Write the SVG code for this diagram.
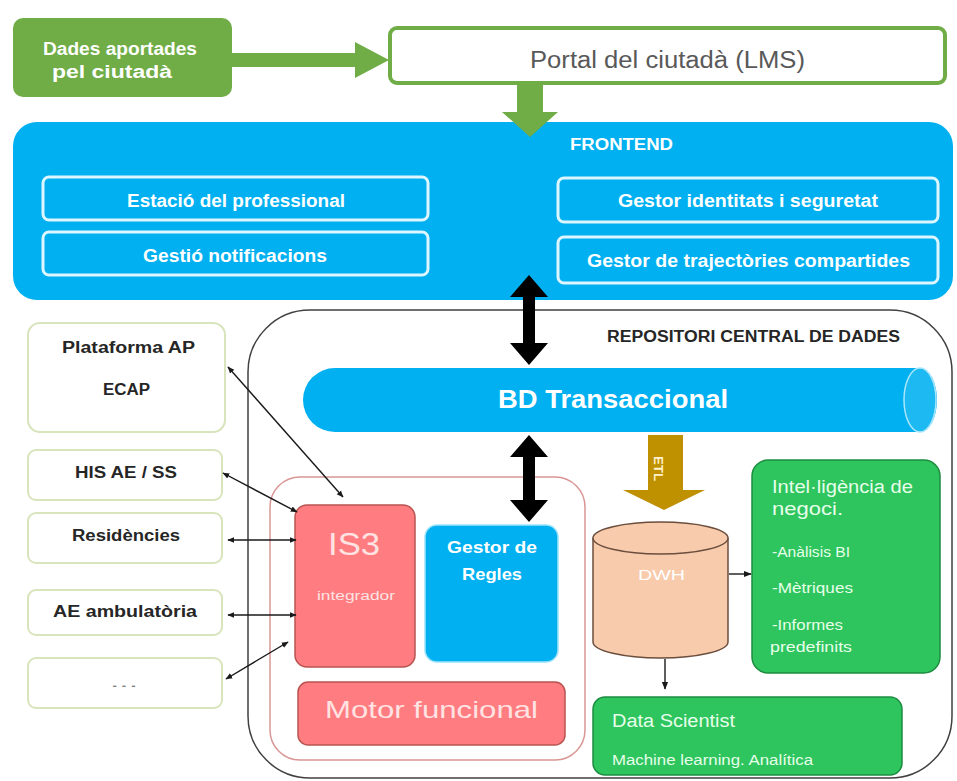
<svg xmlns="http://www.w3.org/2000/svg" width="957" height="781" viewBox="0 0 957 781">
<style>
text{font-family:"Liberation Sans",Arial,sans-serif}
.b{font-weight:bold}
.w{fill:#ffffff}
.fe{fill:none;stroke:#DDF6FF;stroke-width:3}
.lb{fill:#ffffff;stroke:#D8E4BC;stroke-width:2}
.dk{fill:#262626}
.ln{stroke:#1a1a1a;stroke-width:1.4;fill:none;marker-start:url(#ah);marker-end:url(#ah)}
.gr{fill:#2EC45E;stroke:#1E8C40;stroke-width:1.5}
.pk{fill:#FF7C80;stroke:#B85450;stroke-width:1.5}
.pt{fill:#FFE3E3}
.gt{fill:#E6FFE9}
</style>
<defs>
<marker id="ah" viewBox="0 0 10 10" refX="9" refY="5" markerWidth="7" markerHeight="7" orient="auto-start-reverse" markerUnits="userSpaceOnUse">
<path d="M0,1 L10,5 L0,9 Z" fill="#1a1a1a"/>
</marker>
<marker id="ah2" viewBox="0 0 10 10" refX="9" refY="5" markerWidth="8" markerHeight="8" orient="auto" markerUnits="userSpaceOnUse">
<path d="M0,1 L10,5 L0,9 Z" fill="#1a1a1a"/>
</marker>
</defs>

<g id="repositori">
<rect x="248" y="310" width="704" height="468" rx="62" fill="#ffffff" stroke="#404040" stroke-width="1.5"/>
<text x="607" y="342" class="b dk" font-size="16" textLength="293" lengthAdjust="spacingAndGlyphs">REPOSITORI CENTRAL DE DADES</text>
</g>

<g id="frontend">
<rect x="13" y="122" width="940" height="178" rx="24" fill="#00B0F0"/>
<text x="570" y="150" class="b w" font-size="16" textLength="103" lengthAdjust="spacingAndGlyphs">FRONTEND</text>
</g>
<g id="estacio">
<rect x="43" y="177" width="385" height="43" rx="6" class="fe"/>
<text x="127" y="207" class="b w" font-size="18" textLength="218" lengthAdjust="spacingAndGlyphs">Estació del professional</text>
</g>
<g id="notificacions">
<rect x="43" y="232" width="385" height="43" rx="6" class="fe"/>
<text x="143" y="262" class="b w" font-size="18" textLength="184" lengthAdjust="spacingAndGlyphs">Gestió notificacions</text>
</g>
<g id="identitats">
<rect x="558" y="178" width="380" height="44" rx="6" class="fe"/>
<text x="618" y="207" class="b w" font-size="18" textLength="260" lengthAdjust="spacingAndGlyphs">Gestor identitats i seguretat</text>
</g>
<g id="trajectories">
<rect x="558" y="237" width="380" height="46" rx="6" class="fe"/>
<text x="587" y="267" class="b w" font-size="18" textLength="323" lengthAdjust="spacingAndGlyphs">Gestor de trajectòries compartides</text>
</g>

<g id="dades">
<rect x="13" y="18" width="219" height="79" rx="10" fill="#70AD47"/>
<text x="43" y="55" class="b w" font-size="18" textLength="154" lengthAdjust="spacingAndGlyphs">Dades aportades</text>
<text x="52" y="78" class="b w" font-size="18" textLength="120" lengthAdjust="spacingAndGlyphs">pel ciutadà</text>
</g>
<g id="portal">
<rect x="390" y="28" width="555" height="55" rx="7" fill="#ffffff" stroke="#70AD47" stroke-width="4"/>
<text x="530" y="68" font-size="23" fill="#595959" textLength="275" lengthAdjust="spacingAndGlyphs">Portal del ciutadà (LMS)</text>
</g>

<g id="bd">
<path d="M335,368 H920 A17,32 0 0 1 920,432 H335 A32,32 0 0 1 335,368 Z" fill="#00B0F0"/>
<ellipse cx="920" cy="400" rx="16" ry="32" fill="#1DB9F2" stroke="#A8E6FB" stroke-width="1.5"/>
<text x="498" y="408" class="b w" font-size="26" textLength="230" lengthAdjust="spacingAndGlyphs">BD Transaccional</text>
</g>

<g id="integracio">
<rect x="270" y="477" width="315" height="283" rx="30" fill="#ffffff" stroke="#D99694" stroke-width="1.5"/>
</g>
<g id="is3">
<rect x="295" y="505" width="120" height="162" rx="12" class="pk"/>
<text x="328" y="555" class="pt" font-size="32" textLength="52" lengthAdjust="spacingAndGlyphs">IS3</text>
<text x="317" y="600" class="pt" font-size="12" textLength="78" lengthAdjust="spacingAndGlyphs">integrador</text>
</g>
<g id="regles">
<rect x="425" y="525" width="133" height="137" rx="12" fill="#00B0F0" stroke="#9DE3FA" stroke-width="1.5"/>
<text x="447" y="553" class="b w" font-size="17" textLength="90" lengthAdjust="spacingAndGlyphs">Gestor de</text>
<text x="462" y="580" class="b w" font-size="17" textLength="60" lengthAdjust="spacingAndGlyphs">Regles</text>
</g>
<g id="motor">
<rect x="298" y="682" width="267" height="63" rx="10" class="pk"/>
<text x="325" y="718" class="pt" font-size="24" textLength="213" lengthAdjust="spacingAndGlyphs">Motor funcional</text>
</g>

<g id="dwh">
<path d="M593,538 V642 A67.5,16 0 0 0 728,642 V538" fill="#F8CBAD" stroke="#6B4E3D" stroke-width="1.5"/>
<ellipse cx="660.5" cy="538" rx="67.5" ry="16" fill="#F8CBAD" stroke="#6B4E3D" stroke-width="1.5"/>
<text x="638" y="580" class="w" font-size="15" textLength="47" lengthAdjust="spacingAndGlyphs">DWH</text>
</g>

<g id="bi">
<rect x="752" y="460" width="188" height="213" rx="16" class="gr"/>
<text x="772" y="493" class="gt" font-size="18" textLength="141" lengthAdjust="spacingAndGlyphs">Intel·ligència de</text>
<text x="772" y="515" class="gt" font-size="18" textLength="71" lengthAdjust="spacingAndGlyphs">negoci.</text>
<text x="772" y="557" class="gt" font-size="14" textLength="78" lengthAdjust="spacingAndGlyphs">-Anàlisis BI</text>
<text x="772" y="593" class="gt" font-size="14" textLength="81" lengthAdjust="spacingAndGlyphs">-Mètriques</text>
<text x="772" y="630" class="gt" font-size="14" textLength="71" lengthAdjust="spacingAndGlyphs">-Informes</text>
<text x="770" y="652" class="gt" font-size="14" textLength="82" lengthAdjust="spacingAndGlyphs">predefinits</text>
</g>
<g id="datascientist">
<rect x="593" y="697" width="309" height="78" rx="12" class="gr"/>
<text x="612" y="727" class="gt" font-size="18" textLength="123" lengthAdjust="spacingAndGlyphs">Data Scientist</text>
<text x="612" y="765" class="gt" font-size="14" textLength="201" lengthAdjust="spacingAndGlyphs">Machine learning. Analítica</text>
</g>

<g id="plataforma">
<rect x="28" y="323" width="197" height="109" rx="12" class="lb"/>
<text x="62" y="353" class="b dk" font-size="16" textLength="133" lengthAdjust="spacingAndGlyphs">Plataforma AP</text>
<text x="103" y="395" class="b dk" font-size="16" textLength="47" lengthAdjust="spacingAndGlyphs">ECAP</text>
</g>
<g id="his">
<rect x="28" y="450" width="194" height="50" rx="8" class="lb"/>
<text x="75" y="478" class="b dk" font-size="16" textLength="102" lengthAdjust="spacingAndGlyphs">HIS AE / SS</text>
</g>
<g id="residencies">
<rect x="28" y="513" width="194" height="50" rx="8" class="lb"/>
<text x="72" y="541" class="b dk" font-size="16" textLength="108" lengthAdjust="spacingAndGlyphs">Residències</text>
</g>
<g id="ambulatoria">
<rect x="28" y="590" width="194" height="45" rx="8" class="lb"/>
<text x="53" y="617" class="b dk" font-size="16" textLength="144" lengthAdjust="spacingAndGlyphs">AE ambulatòria</text>
</g>
<g id="altres">
<rect x="28" y="658" width="194" height="50" rx="8" class="lb"/>
<text x="110" y="687" font-size="13" fill="#7f7f7f" textLength="28" lengthAdjust="spacingAndGlyphs">...</text>
</g>

<g id="connectors">
<polygon points="232,53 355,53 355,42 389,60 355,78 355,67 232,67" fill="#70AD47"/>
<polygon points="517,83 543,83 543,112 558,112 530,137 502,112 517,112" fill="#70AD47"/>
<polygon points="529,275 548,297 535,297 535,343 548,343 529,365 510,343 523,343 523,297 510,297" fill="#000000"/>
<polygon points="529,435 548,457 535,457 535,500 548,500 529,522 510,500 523,500 523,457 510,457" fill="#000000"/>
<polygon points="648,435 683,435 683,490 705,490 664,510 623,490 648,490" fill="#BF9000"/>
<text transform="translate(654,456) rotate(90)" font-size="12" fill="#FFF2CC" class="b" textLength="25" lengthAdjust="spacingAndGlyphs">ETL</text>
<line x1="228" y1="367" x2="343" y2="497" class="ln"/>
<line x1="223" y1="473" x2="297" y2="512" class="ln"/>
<line x1="228" y1="540" x2="296" y2="540" class="ln"/>
<line x1="228" y1="615" x2="296" y2="615" class="ln"/>
<line x1="226" y1="679" x2="288" y2="642" class="ln"/>
<line x1="729" y1="574" x2="751" y2="574" stroke="#1a1a1a" stroke-width="1.4" marker-end="url(#ah2)"/>
<line x1="665" y1="659" x2="665" y2="689" stroke="#1a1a1a" stroke-width="1.4" marker-end="url(#ah2)"/>
</g>
</svg>
